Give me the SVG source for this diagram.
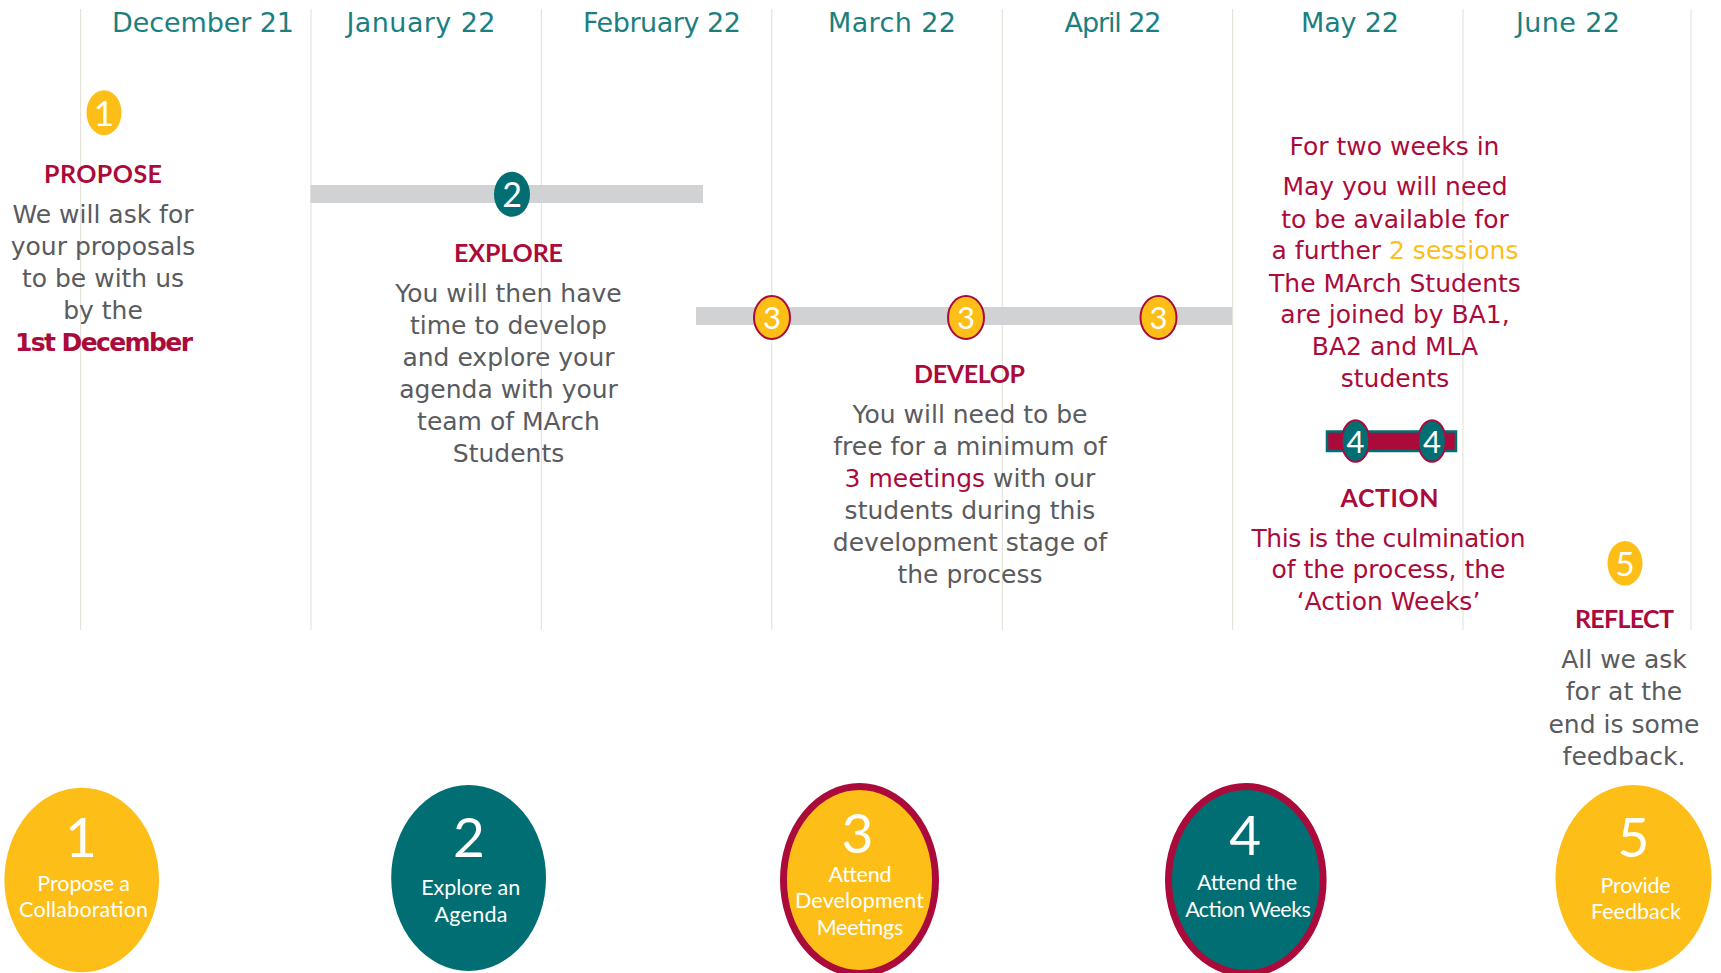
<svg xmlns="http://www.w3.org/2000/svg" width="1721" height="973" viewBox="0 0 1721 973">
<style>
.bg{fill:#ffffff}
.vline{stroke:#e6e4da;stroke-width:1.2}
.month{font-family:"DejaVu Sans",sans-serif;font-size:27px;fill:#1c7f7f;text-anchor:middle}
.head{font-family:Lato,"Open Sans",sans-serif;font-weight:bold;font-size:25px;fill:#ab0b3b;text-anchor:middle}
.body{font-family:"DejaVu Sans",sans-serif;font-size:25px;fill:#5a5b5e;text-anchor:middle}
.red{fill:#ab0b3b}
.yel{fill:#fdbe17}
.bar{fill:#d1d2d3}
.sy{fill:#fdbe17}
.sy3{fill:#fdbe17;stroke:#ab0b3b;stroke-width:2}
.st{fill:#006e73}
.st4{fill:#006e73;stroke:#ab0b3b;stroke-width:2}
.sd{font-family:Lato,"Open Sans",sans-serif;fill:#ffffff;text-anchor:middle}
.big{font-family:Lato,"Open Sans",sans-serif;font-size:55px;fill:#ffffff;text-anchor:middle}
.lab{font-family:Lato,"Open Sans",sans-serif;font-size:21.5px;fill:#ffffff;text-anchor:middle}
.ring{stroke:#ab0b3b;stroke-width:7}
</style>
<rect class="bg" x="0" y="0" width="1721" height="973"/>
<g id="grid">
<line class="vline" x1="80.6" y1="9" x2="80.6" y2="630"/>
<line class="vline" x1="311" y1="9" x2="311" y2="630"/>
<line class="vline" x1="541.4" y1="9" x2="541.4" y2="630"/>
<line class="vline" x1="771.8" y1="9" x2="771.8" y2="630"/>
<line class="vline" x1="1002.4" y1="9" x2="1002.4" y2="630"/>
<line class="vline" x1="1232.6" y1="9" x2="1232.6" y2="630"/>
<line class="vline" x1="1463" y1="9" x2="1463" y2="630"/>
<line class="vline" x1="1691" y1="9" x2="1691" y2="630"/>
</g>
<g id="months">
<text class="month" x="203" y="32" textLength="182">December 21</text>
<text class="month" x="421" y="32" textLength="149">January 22</text>
<text class="month" x="662" y="32" textLength="158">February 22</text>
<text class="month" x="892" y="32" textLength="128">March 22</text>
<text class="month" x="1113" y="32" textLength="97">April 22</text>
<text class="month" x="1350" y="32" textLength="98">May 22</text>
<text class="month" x="1568" y="32" textLength="104">June 22</text>
</g>
<g id="connectors">
<rect class="bar" x="310.5" y="185" width="392.5" height="18"/>
<rect class="bar" x="696" y="307" width="536" height="18"/>
<rect x="1327" y="431.5" width="129" height="19.5" fill="#ab0b3b" stroke="#006e73" stroke-width="2.5"/>
</g>
<g id="propose">
<ellipse class="sy" cx="104" cy="112.7" rx="17.5" ry="22.5"/>
<text class="sd" x="104" y="125.5" font-size="35">1</text>
<text class="head" x="103" y="183" textLength="118">PROPOSE</text>
<text class="body" x="103" y="223">We will ask for</text>
<text class="body" x="103" y="255">your proposals</text>
<text class="body" x="103" y="287">to be with us</text>
<text class="body" x="103" y="319">by the</text>
<text class="body red" x="104" y="351" font-weight="bold" textLength="178">1st December</text>
</g>
<g id="explore">
<ellipse class="st" cx="512" cy="194.3" rx="18" ry="22.5"/>
<text class="sd" x="512" y="206.5" font-size="34">2</text>
<text class="head" x="508.5" y="262" textLength="109">EXPLORE</text>
<text class="body" x="508.5" y="302">You will then have</text>
<text class="body" x="508.5" y="334">time to develop</text>
<text class="body" x="508.5" y="366">and explore your</text>
<text class="body" x="508.5" y="398">agenda with your</text>
<text class="body" x="508.5" y="430">team of MArch</text>
<text class="body" x="508.5" y="462">Students</text>
</g>
<g id="develop">
<ellipse class="sy3" cx="772" cy="317.5" rx="18" ry="21.5"/>
<text class="sd" x="772" y="329" font-size="31">3</text>
<ellipse class="sy3" cx="966" cy="317.5" rx="18" ry="21.5"/>
<text class="sd" x="966" y="329" font-size="31">3</text>
<ellipse class="sy3" cx="1158.5" cy="317.5" rx="18" ry="21.5"/>
<text class="sd" x="1158.5" y="329" font-size="31">3</text>
<text class="head" x="969.5" y="383" textLength="111">DEVELOP</text>
<text class="body" x="970" y="423">You will need to be</text>
<text class="body" x="970" y="455">free for a minimum of</text>
<text class="body" x="970" y="487"><tspan class="red">3 meetings</tspan> with our</text>
<text class="body" x="970" y="519">students during this</text>
<text class="body" x="970" y="551">development stage of</text>
<text class="body" x="970" y="583">the process</text>
</g>
<g id="action">
<text class="body red" x="1394.5" y="155">For two weeks in</text>
<text class="body red" x="1395" y="195">May you will need</text>
<text class="body red" x="1395" y="227.5">to be available for</text>
<text class="body red" x="1395" y="259">a further <tspan class="yel">2 sessions</tspan></text>
<text class="body red" x="1395" y="291.5">The MArch Students</text>
<text class="body red" x="1395" y="323">are joined by BA1,</text>
<text class="body red" x="1395" y="355">BA2 and MLA</text>
<text class="body red" x="1395" y="387">students</text>
<ellipse class="st4" cx="1355.5" cy="441" rx="13.8" ry="20.8"/>
<text class="sd" x="1355.5" y="452.5" font-size="31">4</text>
<ellipse class="st4" cx="1432" cy="441" rx="13.8" ry="20.8"/>
<text class="sd" x="1432" y="452.5" font-size="31">4</text>
<text class="head" x="1389.6" y="506.7" textLength="98">ACTION</text>
<text class="body red" x="1388.5" y="546.7" textLength="274">This is the culmination</text>
<text class="body red" x="1388.5" y="578">of the process, the</text>
<text class="body red" x="1388.5" y="610">‘Action Weeks’</text>
</g>
<g id="reflect">
<ellipse class="sy" cx="1625" cy="563.3" rx="17.5" ry="22.3"/>
<text class="sd" x="1625" y="575.5" font-size="33">5</text>
<text class="head" x="1624.4" y="628.3" textLength="99">REFLECT</text>
<text class="body" x="1624" y="668.3">All we ask</text>
<text class="body" x="1624" y="700">for at the</text>
<text class="body" x="1624" y="733">end is some</text>
<text class="body" x="1624" y="765">feedback.</text>
</g>
<g id="step1">
<ellipse cx="81.7" cy="880" rx="77.3" ry="92.3" fill="#fdbe17"/>
<text class="big" x="81" y="856.7">1</text>
<text class="lab" x="83.7" y="890.7" textLength="92.7">Propose a</text>
<text class="lab" x="83.6" y="917.3" textLength="129">Collaboration</text>
</g>
<g id="step2">
<ellipse cx="468.6" cy="878" rx="77.4" ry="93" fill="#006e73"/>
<text class="big" x="469" y="856.7">2</text>
<text class="lab" x="470.7" y="895" textLength="99">Explore an</text>
<text class="lab" x="471" y="921.7" textLength="73">Agenda</text>
</g>
<g id="step3">
<ellipse class="ring" cx="859.5" cy="880" rx="76" ry="93.5" fill="#fdbe17"/>
<text class="big" x="857.5" y="853">3</text>
<text class="lab" x="860" y="881.7" textLength="63">Attend</text>
<text class="lab" x="859.5" y="908.3" textLength="129">Development</text>
<text class="lab" x="860" y="935" textLength="86.7">Meetings</text>
</g>
<g id="step4">
<ellipse class="ring" cx="1245.8" cy="880" rx="77.3" ry="93.5" fill="#006e73"/>
<text class="big" x="1245.3" y="855">4</text>
<text class="lab" x="1247" y="890" textLength="100">Attend the</text>
<text class="lab" x="1248" y="916.7" textLength="125.7">Action Weeks</text>
</g>
<g id="step5">
<ellipse cx="1633.5" cy="878" rx="78" ry="93" fill="#fdbe17"/>
<text class="big" x="1633.5" y="856.7">5</text>
<text class="lab" x="1635.6" y="892.7" textLength="70">Provide</text>
<text class="lab" x="1636" y="919.3" textLength="90">Feedback</text>
</g>
</svg>
